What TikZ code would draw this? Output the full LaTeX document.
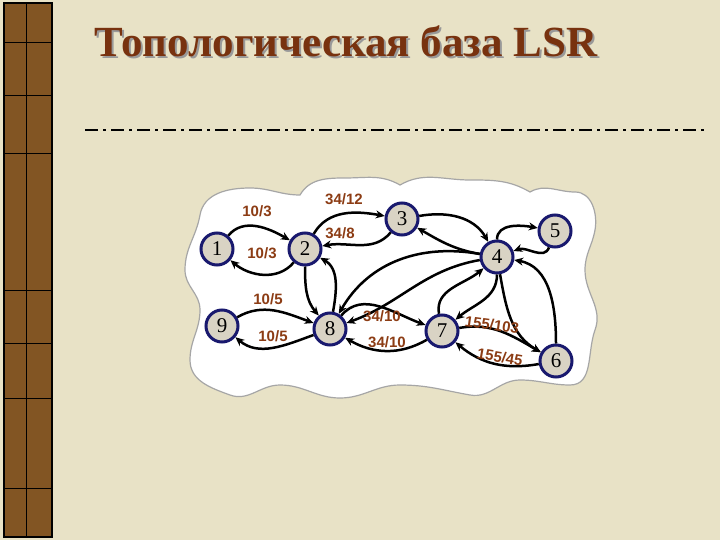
\documentclass[tikz,border=0pt]{standalone}
\usepackage{fontspec}
\setmainfont{Liberation Serif}
\newfontfamily\labfont{Liberation Sans}
\usetikzlibrary{arrows.meta}
\definecolor{bg}{RGB}{232,226,198}
\definecolor{ttl}{RGB}{120,50,15}
\definecolor{lab}{RGB}{140,60,20}
\definecolor{nfill}{RGB}{217,211,196}
\definecolor{nedge}{RGB}{25,25,110}
\definecolor{barc}{RGB}{130,85,35}
\begin{document}
\begin{tikzpicture}[x=1pt,y=-1pt,
  nd/.style={circle,draw=nedge,line width=3pt,fill=nfill,minimum size=32pt,inner sep=0pt,font=\fontsize{21}{21}\selectfont},
  ed/.style={line width=2.5pt,-{Stealth[length=9pt,width=8pt]}},
  lb/.style={font=\labfont\bfseries\fontsize{15}{15}\selectfont,text=lab}]
\useasboundingbox (0,0) rectangle (720,540);
\fill[bg] (0,0) rectangle (720,540);
% left bar
\fill[barc] (3,3) rectangle (53,537);
\draw[line width=1.5pt] (4,3) rectangle (52,537);
\draw[line width=0.8pt] (26,3) -- (26,537);
\foreach \y in {42,95,153,290,343,398,488} \draw[line width=0.8pt] (4,\y) -- (52,\y);
% title
\node[anchor=west,text=black!40,font=\bfseries\fontsize{43}{43}\selectfont] (tsh) at (93,43) {Топологическая база LSR};
\node[anchor=west,text=ttl,font=\bfseries\fontsize{43}{43}\selectfont] (ttl) at (91,41) {Топологическая база LSR};
\draw[line width=2pt,dash pattern=on 13pt off 5pt on 3pt off 5pt] (85,130) -- (705,130);
% cloud
\draw[fill=white,draw=black!35,line width=1.2pt]
 (200,215) to[out=80,in=180] (250,188) to[out=0,in=180] (300,195)
 to[out=60,in=180] (345,178) to[out=0,in=150] (400,185)
 to[out=30,in=180] (470,180) to[out=0,in=150] (530,192)
 to[out=30,in=180] (575,192) to[out=0,in=80] (595,230)
 to[out=-100,in=90] (585,270) to[out=-90,in=70] (595,330)
 to[out=-110,in=0] (570,385) to[out=180,in=0] (520,380)
 to[out=180,in=-10] (470,395) to[out=170,in=0] (400,385)
 to[out=180,in=0] (340,398) to[out=180,in=0] (280,385)
 to[out=180,in=-20] (230,395) to[out=160,in=-90] (190,360)
 to[out=90,in=-90] (200,310) to[out=90,in=-90] (185,270)
 to[out=90,in=-100] cycle;
% nodes
\node[nd] (n1) at (217,249) {1};
\node[nd] (n2) at (305,249) {2};
\node[nd] (n3) at (402,219) {3};
\node[nd] (n4) at (497,257) {4};
\node[nd] (n5) at (555,231) {5};
\node[nd] (n9) at (222,326) {9};
\node[nd] (n8) at (330,329) {8};
\node[nd] (n7) at (442,331) {7};
\node[nd] (n6) at (556,361) {6};
% edges
\draw[ed] (n1) to[out=50,in=150] (n2);
\draw[ed] (n2) to[out=-130,in=-40] (n1);
\draw[ed] (n2) to[out=60,in=170] (n3);
\draw[ed] (n3) to[out=-130,in=10] (n2);
\draw[ed] (n3) to[out=10,in=120] (n4);
\draw[ed] (n4) to[out=170,in=-30] (n3);
\draw[ed] (n4) to[out=90,in=170] (n5);
\draw[ed] (n5) to[out=-110,in=20] (n4);
\draw[ed] (n2) to[out=-90,in=130] (n8);
\draw[ed] (n8) to[out=80,in=-30] (n2);
\draw[ed] (n4) to[out=170,in=60] (n8);
\draw[ed] (n4) to[out=-170,in=20] (n8);
\draw[ed] (n9) to[out=30,in=160] (n8);
\draw[ed] (n8) to[out=-160,in=-40] (n9);
\draw[ed] (n8) to[out=50,in=160] (n7);
\draw[ed] (n7) to[out=-150,in=-30] (n8);
\draw[ed] (n7) to[out=100,in=-140] (n4);
\draw[ed] (n4) to[out=-90,in=40] (n7);
\draw[ed] (n7) to[out=10,in=150] (n6);
\draw[ed] (n6) to[out=-170,in=-40] (n7);
\draw[ed] (n4) to[out=-80,in=150] (n6);
\draw[ed] (n6) to[out=90,in=-10] (n4);
% labels
\node[lb] (l1) at (257,211) {10/3};
\node[lb] (l2) at (262,253) {10/3};
\node[lb] (l3) at (344,199) {34/12};
\node[lb] (l4) at (340,233) {34/8};
\node[lb] (l5) at (268,299) {10/5};
\node[lb] (l6) at (273,336) {10/5};
\node[lb] (l7) at (382,316) {34/10};
\node[lb] (l8) at (387,342) {34/10};
\node[lb,rotate=-8] (l9) at (492,325) {155/103};
\node[lb,rotate=-10] (l10) at (500,357) {155/45};
\end{tikzpicture}
\end{document}
